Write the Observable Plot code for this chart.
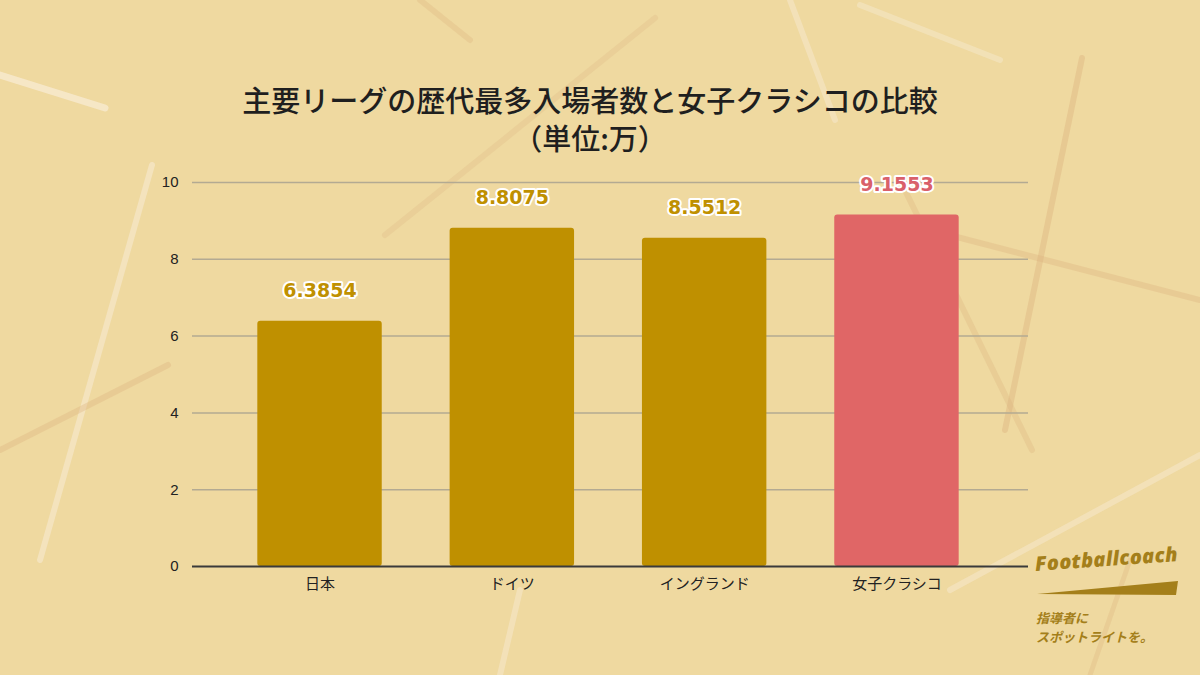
<!DOCTYPE html>
<html><head><meta charset="utf-8">
<script src="https://cdn.jsdelivr.net/npm/d3@7"></script>
<script src="https://cdn.jsdelivr.net/npm/@observablehq/plot@0.6"></script>
<style>
html,body{margin:0;padding:0;}
body{width:1200px;height:675px;overflow:hidden;background:#efd9a0;font-family:"Noto Sans CJK JP","Noto Sans",sans-serif;}
#wrap{position:relative;width:1200px;height:675px;}
#bg{position:absolute;left:0;top:0;z-index:0;}
#title{position:absolute;left:0;top:80px;width:1180px;text-align:center;z-index:2;color:#1f1f1f;font-size:29px;font-weight:500;line-height:38px;}
#title div{height:38px;}
#chart{position:absolute;left:0;top:160px;z-index:1;}
#logo{position:absolute;left:1036px;top:550px;z-index:2;color:#a47f1a;}
#logo .brand{font-family:"Open Sans",Lato,sans-serif;font-weight:800;font-style:italic;font-size:20px;letter-spacing:0.3px;transform:rotate(-4deg);transform-origin:left bottom;white-space:nowrap;}
#logo .tag{font-weight:700;font-style:italic;font-size:13px;line-height:19px;margin-top:9px;}
</style></head>
<body><div id="wrap">
<svg id="bg" width="1200" height="675"></svg>
<div id="title"><div>主要リーグの歴代最多入場者数と女子クラシコの比較</div><div>（単位:万）</div></div>
<div id="chart"></div>
<div id="logo">
  <div class="brand">Footballcoach</div>
  <svg width="150" height="20" style="display:block;margin-top:2px"><polygon points="1,15 142,2 140,16" fill="#a47f1a"/></svg>
  <div class="tag">指導者に<br>スポットライトを。</div>
</div>
</div>
<script>
// data
const categories = ["日本", "ドイツ", "イングランド", "女子クラシコ"];
const values = [6.3854, 8.8075, 8.5512, 9.1553];
const labels = ["6.3854", "8.8075", "8.5512", "9.1553"];
const barColors = ["#bf9000", "#bf9000", "#bf9000", "#e06666"];
const labelColors = ["#bf9000", "#bf9000", "#bf9000", "#d9606a"];
const yTicks = [0, 2, 4, 6, 8, 10];

// decorative background straws
const decor = [
  {x1:0,y1:75,x2:105,y2:108,c:"#f7ead0",o:0.8,w:7},
  {x1:655,y1:18,x2:385,y2:235,c:"#dcb27e",o:0.25,w:6},
  {x1:1082,y1:58,x2:1005,y2:430,c:"#dcb27e",o:0.4,w:6},
  {x1:930,y1:230,x2:1200,y2:300,c:"#dcb27e",o:0.35,w:6},
  {x1:900,y1:180,x2:1032,y2:450,c:"#dcb27e",o:0.3,w:6},
  {x1:152,y1:165,x2:40,y2:560,c:"#f7ead0",o:0.6,w:6},
  {x1:168,y1:365,x2:0,y2:450,c:"#dcb27e",o:0.35,w:6},
  {x1:1200,y1:455,x2:950,y2:590,c:"#f7ead0",o:0.5,w:6},
  {x1:790,y1:0,x2:835,y2:120,c:"#f7ead0",o:0.5,w:6},
  {x1:860,y1:5,x2:1000,y2:60,c:"#f7ead0",o:0.45,w:6},
  {x1:420,y1:0,x2:470,y2:40,c:"#dcb27e",o:0.3,w:6},
  {x1:500,y1:675,x2:520,y2:590,c:"#f7ead0",o:0.5,w:6},
  {x1:1090,y1:675,x2:1130,y2:560,c:"#dcb27e",o:0.3,w:5}
];
const bg = d3.select("#bg");
bg.selectAll("line").data(decor).join("line")
  .attr("x1", d => d.x1).attr("y1", d => d.y1).attr("x2", d => d.x2).attr("y2", d => d.y2)
  .attr("stroke", d => d.c).attr("stroke-opacity", d => d.o).attr("stroke-width", d => d.w)
  .attr("stroke-linecap", "round");

const data = categories.map((c, i) => ({cat: c, v: values[i], label: labels[i], bc: barColors[i], lc: labelColors[i]}));

const chart = Plot.plot({
  width: 1200,
  height: 515,
  marginLeft: 192,
  marginRight: 172,
  marginTop: 22,
  marginBottom: 109,
  style: {background: "transparent", fontFamily: "'Liberation Sans','Noto Sans CJK JP',sans-serif", fontSize: "15px", color: "#222", overflow: "visible"},
  x: {domain: categories, paddingInner: 0.353, paddingOuter: 0.35, round: false, range: [190, 1026], label: null, tickSize: 0, tickPadding: 12},
  y: {domain: [0, 10], ticks: yTicks, label: null, tickSize: 0, tickPadding: 14},
  marks: [
    Plot.ruleY(yTicks.filter(t => t > 0), {stroke: "#b3aa92", strokeWidth: 1.5}),
    Plot.barY(data, {x: "cat", y: "v", fill: "bc", rx: 3}),
    Plot.ruleY([0], {stroke: "#3a3a3a", strokeWidth: 2}),
    Plot.text(data, {x: "cat", y: "v", text: "label", dy: -30, fill: "lc", stroke: "white", strokeWidth: 4, fontWeight: "bold", fontSize: 19, fontFamily: "'DejaVu Sans',sans-serif"}),
    Plot.axisY({ticks: yTicks, tickSize: 0, tickPadding: 14, fontSize: 15, label: null}),
    Plot.axisX({tickSize: 0, tickPadding: 12, fontSize: 15, label: null, fontFamily: "'Noto Sans CJK JP',sans-serif"})
  ]
});
document.getElementById("chart").appendChild(chart);
</script>
</body></html>
